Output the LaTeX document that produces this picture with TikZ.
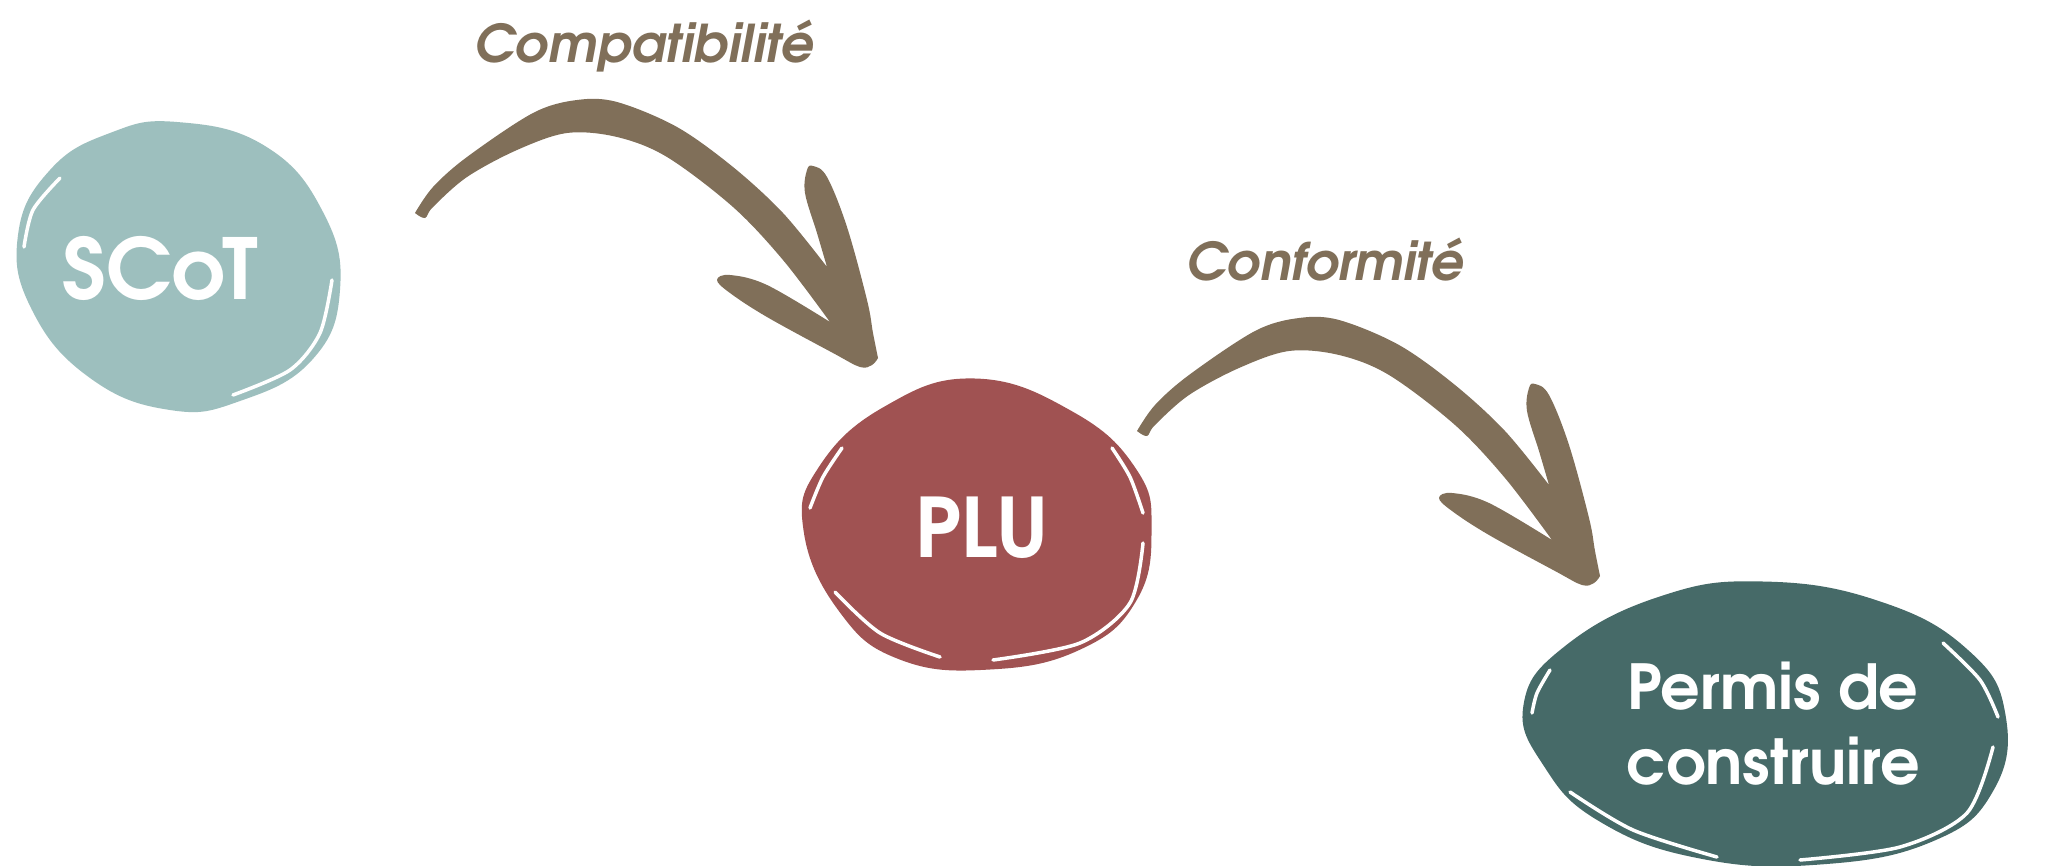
\documentclass[tikz,border=0pt]{standalone}
\usepackage{fontspec}
\setmainfont{texgyreadventor}[Extension=.otf, UprightFont=*-regular, BoldFont=*-bold, ItalicFont=*-italic, BoldItalicFont=*-bolditalic]
\definecolor{scotc}{HTML}{9DBFBE}
\definecolor{pluc}{HTML}{A05252}
\definecolor{permc}{HTML}{466A68}
\definecolor{arrc}{HTML}{806F59}
\tikzset{
  hilite/.style={draw=white, line width=3.5pt, line cap=round},
  blobtext/.style={text=white, anchor=base, inner sep=0pt, font=\bfseries},
  lbltext/.style={text=arrc, anchor=base, inner sep=0pt, font=\bfseries\itshape\fontsize{52}{60}\selectfont},
}
\newcommand{\arrowshape}{%
  plot[smooth, tension=0.55] coordinates {(415,213)(433,187)(467,157)(533,113)(577,100)(617,102)(677,127)(733,167)(783,213)(827,267)}
  -- plot[smooth, tension=0.6] coordinates {(827,267)(817,233)(805,193)(807,170)(813,166)(827,177)(847,227)(867,300)(873,333)(878,358)}
  -- plot[smooth, tension=0.6] coordinates {(878,358)(872,365)(860,367)(833,353)(767,317)(730,293)(717,280)(730,275)(767,285)(830,322)}
  -- plot[smooth, tension=0.55] coordinates {(830,322)(783,260)(733,207)(667,157)(617,137)(567,133)(517,150)(467,177)(433,207)(425,218)(415,213)}
  -- cycle}
\begin{document}
\begin{tikzpicture}[x=1pt,y=-1pt]
\useasboundingbox[fill=white] (0,0) rectangle (2051,865);
% SCoT blob
\fill[scotc] plot[smooth cycle, tension=0.75] coordinates {(177,122)(265,146)(323,212)(340,290)(312,360)(240,401)(170,410)(90,378)(32,310)(18,235)(50,170)(110,133)};
\draw[hilite] plot[smooth] coordinates {(60,178)(33,210)(24,247)};
\draw[hilite] plot[smooth] coordinates {(332,280)(320,333)(290,370)(233,395)};
\node[blobtext, font=\bfseries\fontsize{84}{84}\selectfont] (scot) at (160,299) {SCoT};
% PLU blob
\filldraw[pluc, line width=3pt] plot[smooth cycle, tension=0.75] coordinates {(975,380)(1072,413)(1135,470)(1150,530)(1135,600)(1080,648)(990,668)(900,658)(840,610)(805,530)(820,468)(885,408)};
\draw[hilite] plot[smooth] coordinates {(842,448)(823,477)(810,508)};
\draw[hilite] plot[smooth] coordinates {(1112,448)(1130,477)(1143,513)};
\draw[hilite] plot[smooth] coordinates {(835,592)(880,633)(940,657)};
\draw[hilite] plot[smooth] coordinates {(993,660)(1080,643)(1130,603)(1143,543)};
\node[blobtext, font=\bfseries\fontsize{82}{82}\selectfont] (plu) at (982,557) {PLU};
% Permis blob
\filldraw[permc, line width=3pt] plot[smooth cycle, tension=0.75] coordinates {(1763,583)(1880,603)(1968,652)(2004,715)(1992,790)(1932,840)(1820,863)(1700,857)(1600,820)(1545,765)(1525,705)(1565,648)(1660,598)};
\draw[hilite] plot[smooth] coordinates {(1550,670)(1537,693)(1532,713)};
\draw[hilite] plot[smooth] coordinates {(1943,643)(1980,680)(1998,717)};
\draw[hilite] plot[smooth] coordinates {(1570,792)(1633,830)(1717,857)};
\draw[hilite] plot[smooth] coordinates {(1800,860)(1900,847)(1967,813)(1993,747)};
\node[blobtext, align=center, font=\bfseries\fontsize{62}{75}\selectfont] (permis) at (1773,784) {Permis de\\construire};
% arrows
\fill[arrc] \arrowshape;
\begin{scope}[shift={(722,218)}]
\fill[arrc] \arrowshape;
\end{scope}
\node[lbltext] (lblcompat) at (644,62) {Compatibilité};
\node[lbltext] (lblconf) at (1325,280) {Conformité};
\end{tikzpicture}
\end{document}
